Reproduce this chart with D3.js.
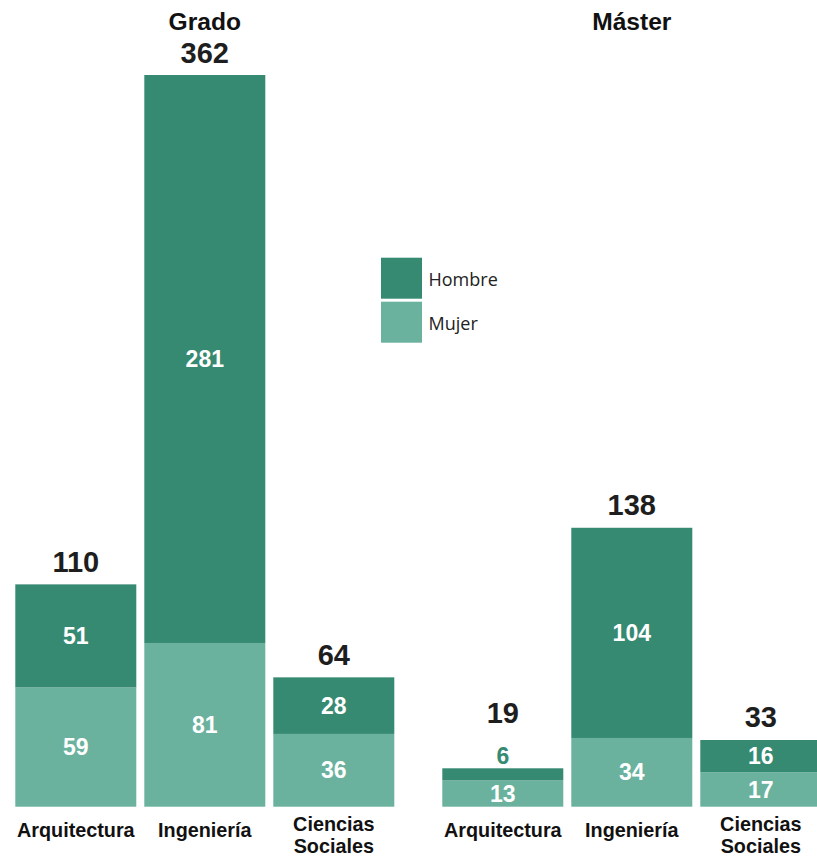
<!DOCTYPE html>
<html>
<head>
<meta charset="utf-8">
<script src="https://cdn.jsdelivr.net/npm/d3@7"></script>
<style>
  html, body { margin: 0; padding: 0; background: #fff; }
  svg { display: block; }
</style>
</head>
<body>
<svg id="chart" width="817" height="857"></svg>
<script>
// ---- data ----
const groups = ["Grado", "Máster"];
const categories = ["Arquitectura", "Ingeniería", "Ciencias Sociales"];
const categoryLines = [["Arquitectura"], ["Ingeniería"], ["Ciencias", "Sociales"]];
const series = ["Mujer", "Hombre"];
const mujerGrado = [59, 81, 36];
const hombreGrado = [51, 281, 28];
const mujerMaster = [13, 34, 17];
const hombreMaster = [6, 104, 16];
const legendLabels = ["Hombre", "Mujer"];

const colors = { Hombre: "#378a72", Mujer: "#6ab29e" };

// ---- build rows ----
const values = {
  "Grado": { Mujer: mujerGrado, Hombre: hombreGrado },
  "Máster": { Mujer: mujerMaster, Hombre: hombreMaster }
};
const rows = [];
groups.forEach(g => categories.forEach((c, i) => {
  rows.push({ group: g, cat: c, idx: i, Mujer: values[g].Mujer[i], Hombre: values[g].Hombre[i] });
}));
rows.forEach(r => r.total = r.Mujer + r.Hombre);

const svg = d3.select("#chart");

// ---- scales ----
const xGroup = d3.scaleBand().domain(groups).range([15.3, 821.3]).paddingInner(0.1124).paddingOuter(0);
const xCat = d3.scaleBand().domain(categories).range([0, xGroup.bandwidth()]).paddingInner(0.062).paddingOuter(0);
const maxTotal = d3.max(rows, d => d.total);
const y = d3.scaleLinear().domain([0, maxTotal]).range([806.7, 75]);

const stack = d3.stack().keys(series);
const stacked = stack(rows);

const fontBold = "'Liberation Sans', Arial, Helvetica, sans-serif";
const minInside = 20;
const topKey = series[series.length - 1];

// ---- bars ----
const layers = svg.append("g").selectAll("g")
  .data(stacked).join("g")
  .attr("fill", d => colors[d.key]);

layers.selectAll("rect")
  .data(d => d.map(s => ({ s, key: d.key })))
  .join("rect")
  .attr("x", d => xGroup(d.s.data.group) + xCat(d.s.data.cat))
  .attr("width", xCat.bandwidth())
  .attr("y", d => y(d.s[1]))
  .attr("height", d => y(d.s[0]) - y(d.s[1]));

// ---- segment labels ----
stacked.forEach(layer => {
  svg.append("g").selectAll("text")
    .data(layer).join("text")
    .each(function (s) {
      const h = y(s[0]) - y(s[1]);
      const cx = xGroup(s.data.group) + xCat(s.data.cat) + xCat.bandwidth() / 2;
      const t = d3.select(this);
      t.attr("x", cx)
        .attr("text-anchor", "middle")
        .attr("font-family", fontBold)
        .attr("font-weight", "bold")
        .attr("font-size", 23)
        .text(s[1] - s[0]);
      if (h < minInside) {
        t.attr("y", y(s[1]) - 4).attr("fill", colors[layer.key]);
      } else {
        t.attr("y", (y(s[0]) + y(s[1])) / 2).attr("dy", "0.35em").attr("fill", "#fff");
      }
    });
});

// ---- total labels ----
svg.append("g").selectAll("text")
  .data(rows).join("text")
  .attr("x", d => xGroup(d.group) + xCat(d.cat) + xCat.bandwidth() / 2)
  .attr("y", d => {
    const topH = y(0) - y(d[topKey]);
    return y(d.total) - 12.5 - (topH < minInside ? 32.5 : 0);
  })
  .attr("text-anchor", "middle")
  .attr("font-family", fontBold)
  .attr("font-weight", "bold")
  .attr("font-size", 29)
  .attr("fill", "#1e1e1e")
  .text(d => d.total);

// ---- group titles ----
svg.append("g").selectAll("text")
  .data(groups).join("text")
  .attr("x", g => xGroup(g) + xCat(categories[1]) + xCat.bandwidth() / 2)
  .attr("y", 29.5)
  .attr("text-anchor", "middle")
  .attr("font-family", fontBold)
  .attr("font-weight", "bold")
  .attr("font-size", 24.6)
  .attr("fill", "#111")
  .text(g => g);

// ---- category labels ----
const catG = svg.append("g");
groups.forEach(g => {
  categories.forEach((c, i) => {
    const lines = categoryLines[i];
    const cx = xGroup(g) + xCat(c) + xCat.bandwidth() / 2;
    const t = catG.append("text")
      .attr("x", cx)
      .attr("text-anchor", "middle")
      .attr("font-family", fontBold)
      .attr("font-weight", "bold")
      .attr("font-size", 19.8)
      .attr("fill", "#111");
    const base = y(0) + (lines.length === 1 ? 30 : 24);
    lines.forEach((ln, k) => {
      t.append("tspan").attr("x", cx).attr("y", base + k * 22).text(ln);
    });
  });
});

// ---- legend ----
const legend = svg.append("g").attr("transform", "translate(381,257.7)");
const lg = legend.selectAll("g").data(legendLabels).join("g")
  .attr("transform", (d, i) => `translate(0,${i * 44})`);
lg.append("rect").attr("width", 41).attr("height", 41).attr("fill", d => colors[d]);
lg.append("text").attr("x", 47.5).attr("y", 22).attr("dy", "0.35em")
  .attr("font-family", "'Open Sans', 'Noto Sans', sans-serif")
  .attr("font-size", 18)
  .attr("fill", "#222")
  .text(d => d);
</script>
</body>
</html>
